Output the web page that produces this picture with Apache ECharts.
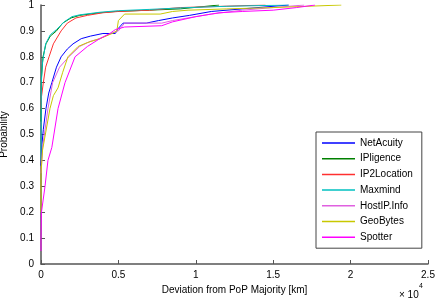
<!DOCTYPE html>
<html><head><meta charset="utf-8">
<script src="https://cdn.jsdelivr.net/npm/echarts@6/dist/echarts.min.js"></script>
<style>html,body{margin:0;padding:0;background:#fff}#c{width:436px;height:300px}</style>
</head><body><div id="c"></div>
<script>
var seriesNames = ['NetAcuity','IPligence','IP2Location','Maxmind','HostIP.Info','GeoBytes','Spotter'];
var seriesColors = ['#0000ff','#008000','#ff3030','#00c0c0','#e060e0','#c8c800','#ff00ff'];
var xTicks = [0, 5000, 10000, 15000, 20000, 25000];
var yTicks = [0,0.1,0.2,0.3,0.4,0.5,0.6,0.7,0.8,0.9,1];

var netAcuityX = [0,60,150,320,500,700,1000,1300,1700,2070,2600,3200,4000,4800,5000,5300,6800,7600,8500,9600,11000,13000,16000];
var netAcuityY = [0.38,0.46,0.52,0.6,0.66,0.7,0.76,0.8,0.83,0.85,0.87,0.88,0.89,0.89,0.91,0.93,0.93,0.94,0.95,0.96,0.975,0.985,1.0];
var ipligenceX = [0,30,130,320,600,1000,1400,1940,2500,3800,4800,7000,9000,11500];
var ipligenceY = [0.55,0.72,0.8,0.85,0.88,0.9,0.93,0.95,0.96,0.97,0.975,0.98,0.985,1.0];
var ip2locationX = [0,30,150,300,520,800,1300,1700,2260,3000,4000,5000,7000,9000,14500];
var ip2locationY = [0.6,0.645,0.7,0.76,0.8,0.85,0.9,0.93,0.95,0.96,0.97,0.975,0.98,0.99,1.0];
var maxmindX = [0,20,100,300,600,1000,1500,2000,2500,3800,5000,7000,9500,12000,16000];
var maxmindY = [0.4,0.7,0.78,0.85,0.885,0.905,0.935,0.955,0.962,0.972,0.978,0.983,0.99,0.995,1.0];
var hostipX = [0,100,450,750,1200,1800,2500,3200,3800,4500,5000,5400,7800,8500,9500,11000,13000,15000,17000];
var hostipY = [0.35,0.45,0.6,0.7,0.76,0.8,0.84,0.86,0.87,0.89,0.9,0.93,0.93,0.94,0.95,0.965,0.98,0.99,1.0];
var geobytesX = [0,0,100,580,800,1100,1400,1740,2400,3000,3800,4600,4900,5000,5400,7700,8500,9500,12000,15000,19400];
var geobytesY = [0.2,0.35,0.44,0.6,0.65,0.68,0.74,0.8,0.84,0.855,0.87,0.89,0.9,0.94,0.965,0.965,0.975,0.98,0.985,0.99,1.0];
var spotterX = [0,0,30,260,450,700,1100,1550,2200,3000,3800,4450,4800,5400,7800,8500,10000,11500,13000,15000,16500,17700];
var spotterY = [0.05,0.1,0.2,0.3,0.4,0.45,0.6,0.7,0.8,0.84,0.87,0.89,0.905,0.915,0.92,0.935,0.955,0.97,0.975,0.98,0.99,1.0];

var allX = [netAcuityX, ipligenceX, ip2locationX, maxmindX, hostipX, geobytesX, spotterX];
var allY = [netAcuityY, ipligenceY, ip2locationY, maxmindY, hostipY, geobytesY, spotterY];

function pairs(xs, ys){ return xs.map(function(x,i){ return [x, ys[i]]; }); }

var FONT = 'Liberation Sans';
var series = seriesNames.map(function(n, i){
  return { name: n, type: 'line', data: pairs(allX[i], allY[i]), symbol: 'none',
           lineStyle: { width: 1, color: seriesColors[i] }, itemStyle: { color: seriesColors[i] },
           animation: false };
});

var chart = echarts.init(document.getElementById('c'), null, {renderer:'canvas'});
chart.setOption({
  animation: false,
  backgroundColor: '#fff',
  grid: { left: 41, right: 8, top: 5, bottom: 36, containLabel: false, outerBoundsMode: 'none' },
  xAxis: {
    type: 'value', min: xTicks[0], max: xTicks[xTicks.length-1], interval: xTicks[1]-xTicks[0],
    name: 'Deviation from PoP Majority [km]', nameLocation: 'middle', nameGap: 19,
    nameTextStyle: { fontFamily: FONT, fontSize: 10, color: '#000' },
    axisLine: { lineStyle: { color: '#555', width: 1.5 } },
    axisTick: { inside: true, length: 4, lineStyle: { color: '#555' } },
    axisLabel: { fontFamily: FONT, fontSize: 10, color: '#000', margin: 6,
      formatter: function(v){ return String(v/10000); } },
    splitLine: { show: false }
  },
  yAxis: {
    type: 'value', min: 0, max: 1, interval: 0.1,
    name: 'Probability', nameLocation: 'middle', nameGap: 23,
    nameTextStyle: { fontFamily: FONT, fontSize: 10, color: '#000' },
    axisLine: { show: true, lineStyle: { color: '#555', width: 1.5 } },
    axisTick: { show: true, inside: true, length: 4, lineStyle: { color: '#555' } },
    axisLabel: { fontFamily: FONT, fontSize: 10, color: '#000', margin: 7,
      formatter: function(v){ return String(Math.round(v*10)/10); } },
    splitLine: { show: false }
  },
  legend: {
    orient: 'vertical', left: 316, top: 132,
    data: seriesNames,
    icon: 'rect', itemWidth: 33, itemHeight: 1.5, itemGap: 3.7,
    padding: [5, 9, 5, 6],
    borderColor: '#444', borderWidth: 1, backgroundColor: '#fff',
    textStyle: { fontFamily: FONT, fontSize: 10, fontWeight: 'normal', color: '#000', lineHeight: 12 }
  },
  graphic: [
    { type: 'text', left: 399, top: 290, style: { text: '\u00d7 10', font: '10px "Liberation Sans"', fill: '#000' } },
    { type: 'text', left: 419, top: 283, style: { text: '4', font: '7px "Liberation Sans"', fill: '#000' } }
  ],
  series: series
});
</script></body></html>
